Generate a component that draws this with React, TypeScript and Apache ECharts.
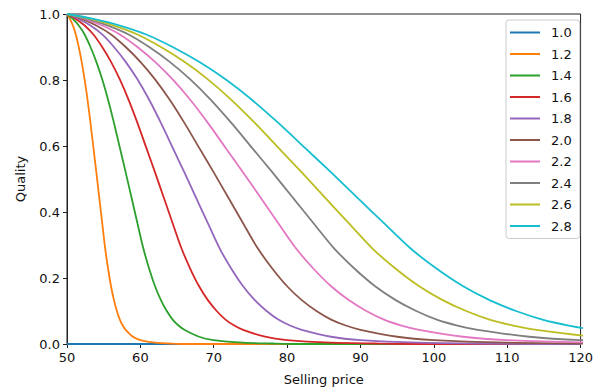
import React, { useEffect, useRef } from "react";
import * as echarts from "echarts";

const NAMES = ["1.0", "1.2", "1.4", "1.6", "1.8", "2.0", "2.2", "2.4", "2.6", "2.8"];
const COLORS = ["#1f77b4", "#ff7f0e", "#2ca02c", "#d62728", "#9467bd", "#8c564b", "#e377c2", "#7f7f7f", "#bcbd22", "#17becf"];

const X_TICKS = { min: 50, max: 120, step: 10 };
const Y_TICKS = { min: 0, max: 1, step: 0.2 };

const LEVELS = [1, 0.985, 0.965, 0.938, 0.9, 0.855, 0.802, 0.74, 0.67, 0.595, 0.52, 0.443, 0.366, 0.29, 0.228, 0.175, 0.133, 0.1, 0.074, 0.056, 0.043, 0.022, 0.012, 0.004, 0.0015, 0];

// Curve "1.0" lies flat on zero
const price10 = [50, 120];
const q10 = [0, 0];

// Selling price where each curve reaches the matching LEVELS value
const price12 = [50, 50.4, 50.8, 51.2, 51.6, 52, 52.4, 52.8, 53.2, 53.6, 54, 54.4, 54.8, 55.2, 55.6, 56, 56.4, 56.8, 57.2, 57.6, 58, 59, 60, 62, 64, 66];
const price14 = [50, 50.8, 51.6, 52.4, 53.2, 54, 54.8, 55.6, 56.4, 57.2, 58, 58.8, 59.6, 60.4, 61.2, 62, 62.8, 63.6, 64.4, 65.2, 66, 68, 70, 74, 78, 82];
const price16 = [50, 51.2, 52.4, 53.6, 54.8, 56, 57.2, 58.4, 59.6, 60.8, 62, 63.2, 64.4, 65.6, 66.8, 68, 69.2, 70.4, 71.6, 72.8, 74, 77, 80, 86, 92, 98];
const price18 = [50, 51.6, 53.2, 54.8, 56.4, 58, 59.6, 61.2, 62.8, 64.4, 66, 67.6, 69.2, 70.8, 72.4, 74, 75.6, 77.2, 78.8, 80.4, 82, 86, 90, 98, 106, 114];
const price20 = [50, 52, 54, 56, 58, 60, 62, 64, 66, 68, 70, 72, 74, 76, 78, 80, 82, 84, 86, 88, 90, 95, 100, 110, 120, 130];
const price22 = [50, 52.4, 54.8, 57.2, 59.6, 62, 64.4, 66.8, 69.2, 71.6, 74, 76.4, 78.8, 81.2, 83.6, 86, 88.4, 90.8, 93.2, 95.6, 98, 104, 110, 122, 134, 146];
const price24 = [50, 52.8, 55.6, 58.4, 61.2, 64, 66.8, 69.6, 72.4, 75.2, 78, 80.8, 83.6, 86.4, 89.2, 92, 94.8, 97.6, 100.4, 103.2, 106, 113, 120, 134, 148, 162];
const price26 = [50, 53.2, 56.4, 59.6, 62.8, 66, 69.2, 72.4, 75.6, 78.8, 82, 85.2, 88.4, 91.6, 94.8, 98, 101.2, 104.4, 107.6, 110.8, 114, 122, 130, 146, 162, 178];
const price28 = [50, 53.6, 57.2, 60.8, 64.4, 68, 71.6, 75.2, 78.8, 82.4, 86, 89.6, 93.2, 96.8, 100.4, 104, 107.6, 111.2, 114.8, 118.4, 122, 131, 140, 158, 176, 194];

const CURVE_PRICES = [price12, price14, price16, price18, price20, price22, price24, price26, price28];

const FONT = "DejaVu Sans";

function buildData(i: number): number[][] {
  if (i === 0) return price10.map((x, j) => [x, q10[j]]);
  const xs = CURVE_PRICES[i - 1];
  const pts = xs.map((x, j) => [x, LEVELS[j]]);
  if (xs[xs.length - 1] < X_TICKS.max) pts.push([X_TICKS.max, 0]);
  return pts;
}

export default function App() {
  const ref = useRef<HTMLDivElement>(null);
  useEffect(() => {
    if (!ref.current) return;
    const chart = echarts.init(ref.current, null, { renderer: "svg" });
    chart.setOption({
      animation: false,
      backgroundColor: "#ffffff",
      color: COLORS,
      textStyle: { fontFamily: FONT },
      grid: {
        left: 67,
        right: 10,
        top: 14,
        bottom: 48,
        show: true,
        borderColor: "#222",
        borderWidth: 1,
        backgroundColor: "transparent",
      },
      xAxis: {
        type: "value",
        min: X_TICKS.min,
        max: X_TICKS.max,
        interval: X_TICKS.step,
        name: "Selling price",
        nameLocation: "middle",
        nameGap: 29,
        nameTextStyle: { fontSize: 13, color: "#111", fontFamily: FONT },
        axisLine: { show: true, onZero: false, lineStyle: { color: "#222", width: 1 } },
        axisTick: { show: true, inside: false, length: 4, lineStyle: { color: "#222" } },
        axisLabel: { fontSize: 13, color: "#111", margin: 7, fontFamily: FONT },
        splitLine: { show: false },
      },
      yAxis: {
        type: "value",
        min: Y_TICKS.min,
        max: Y_TICKS.max,
        interval: Y_TICKS.step,
        name: "Quality",
        nameLocation: "middle",
        nameGap: 40,
        nameRotate: 90,
        nameTextStyle: { fontSize: 13, color: "#111", fontFamily: FONT },
        axisLine: { show: true, onZero: false, lineStyle: { color: "#222", width: 1 } },
        axisTick: { show: true, inside: false, length: 4, lineStyle: { color: "#222" } },
        axisLabel: {
          fontSize: 13,
          color: "#111",
          margin: 7,
          fontFamily: FONT,
          formatter: (v: number) => v.toFixed(1),
        },
        splitLine: { show: false },
      },
      legend: {
        orient: "vertical",
        left: 506,
        top: 20,
        icon: "rect",
        itemWidth: 30,
        itemHeight: 2,
        itemGap: 8.5,
        padding: [6, 8, 6, 4],
        borderColor: "#cccccc",
        borderWidth: 1,
        borderRadius: 3,
        backgroundColor: "rgba(255,255,255,0.8)",
        textStyle: { fontSize: 13, color: "#111", fontFamily: FONT, lineHeight: 13, padding: [0, 0, 0, 6] },
        data: NAMES,
      },
      series: NAMES.map((name, i) => ({
        name,
        type: "line",
        showSymbol: false,
        symbol: "none",
        smooth: 0.3,
        clip: true,
        lineStyle: { width: 1.8, color: COLORS[i] },
        itemStyle: { color: COLORS[i] },
        data: buildData(i),
      })),
    });
    return () => chart.dispose();
  }, []);
  return (
    <div
      ref={ref}
      style={{ position: "fixed", left: 0, top: 0, width: 596, height: 392, background: "#fff" }}
    />
  );
}
